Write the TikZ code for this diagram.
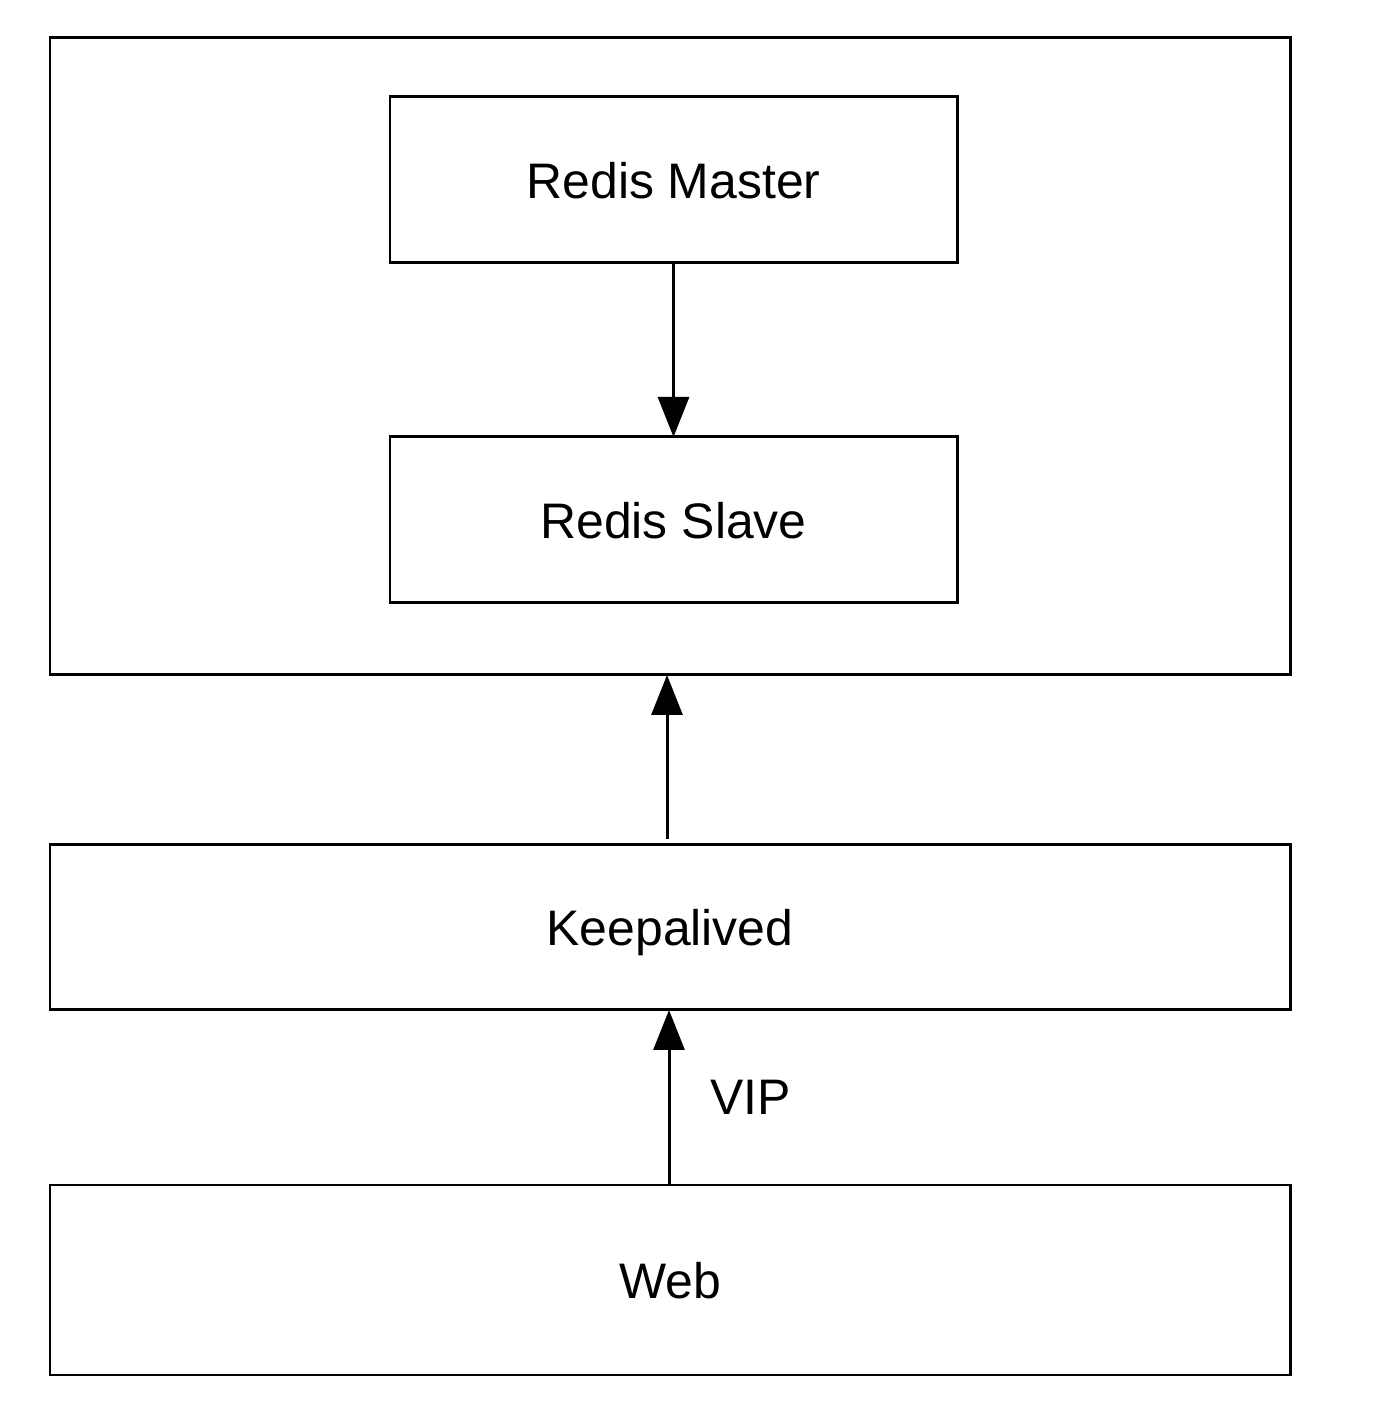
\documentclass[tikz,border=0pt]{standalone}
\usepackage{fontspec}
\setmainfont{Liberation Sans}
\usetikzlibrary{arrows.meta}
\tikzset{
  layer/.style={draw,line width=0.85pt,inner sep=0pt,outer sep=0pt,text depth=0pt,font=\fontsize{14.2}{17}\selectfont},
  link/.style={line width=0.85pt,-{Triangle[length=4mm,width=3.1mm]}}
}
\begin{document}
\begin{tikzpicture}
    \useasboundingbox (0,0) rectangle (13.94,14.06);
    \node [layer,minimum width=12.40cm,minimum height=6.37cm] (cluster) at (6.70,10.495) {};
    \node [layer,minimum width=5.67cm,minimum height=1.66cm] (master) at (6.735,12.26) {Redis Master};
    \node [layer,minimum width=5.67cm,minimum height=1.66cm] (slave) at (6.735,8.86) {Redis Slave};
    \node [layer,minimum width=12.40cm,minimum height=1.65cm] (keep) at (6.70,4.785) {Keepalived};
    \node [layer,minimum width=12.40cm,minimum height=1.90cm] (web) at (6.70,1.26) {Web};
    \draw [link] (master.south) -- (slave.north);
    \draw [link] ([xshift=-0.3mm,yshift=0.6mm]keep.north) -- ([xshift=-0.3mm]cluster.south);
    \draw [link] ([xshift=-0.1mm]web.north) -- ([xshift=-0.1mm]keep.south) node [midway,right=0.28cm,font=\fontsize{14.2}{17}\selectfont] (vip) {VIP};
\end{tikzpicture}
\end{document}
